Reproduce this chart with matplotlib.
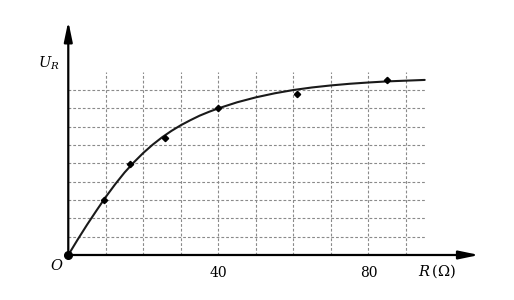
import matplotlib
matplotlib.use("Agg")
import matplotlib.pyplot as plt

plt.rcParams['mathtext.fontset'] = 'dejavuserif'
plt.rcParams['font.family'] = ['DejaVu Serif']

# data
grid_x = [10, 20, 30, 40, 50, 60, 70, 80, 90]
grid_y = [1, 2, 3, 4, 5, 6, 7, 8, 9]
tick_values = [40, 80]
tick_labels = ["40", "80"]
curve_R = [0, 2.5, 5, 7.5, 10, 12.5, 15, 17.5, 20, 22.5, 25, 27.5, 30, 32.5, 35,
           37.5, 40, 45, 50, 55, 60, 65, 70, 75, 80, 85, 90, 95]
curve_U = [0, 0.84, 1.65, 2.42, 3.17, 3.86, 4.5, 5.06, 5.57, 6.02, 6.42, 6.77,
           7.08, 7.35, 7.6, 7.81, 8.0, 8.33, 8.6, 8.82, 9.0, 9.14, 9.25, 9.34,
           9.41, 9.47, 9.51, 9.55]
points_R = [9.6, 16.4, 25.8, 40, 61, 85]
points_U = [3.0, 4.95, 6.37, 8.0, 8.8, 9.56]

fig = plt.figure(figsize=(5.14, 3.0), dpi=100)
ax = fig.add_axes([0, 0, 1, 1])
ax.set_xlim(-18.2, 118.8)
ax.set_ylim(-2.455, 13.91)
ax.axis('off')

gc = '#8a8a8a'
for gx in grid_x:
    ax.plot([gx, gx], [0, 10], ls=(0, (2.5, 1.8)), color=gc, lw=0.8, zorder=1)
for gy in grid_y:
    ax.plot([0, 95.2], [gy, gy], ls=(0, (2.5, 1.8)), color=gc, lw=0.8, zorder=1)

# axes arrows
ax.annotate('', xy=(109.5, 0), xytext=(0, 0),
            arrowprops=dict(arrowstyle='-|>,head_length=1.2,head_width=0.25',
                            color='black', lw=1.6, shrinkA=0, shrinkB=0), zorder=3)
ax.annotate('', xy=(0, 12.75), xytext=(0, 0),
            arrowprops=dict(arrowstyle='-|>,head_length=1.2,head_width=0.25',
                            color='black', lw=1.6, shrinkA=0, shrinkB=0), zorder=3)

ax.plot(curve_R, curve_U, color='#1a1a1a', lw=1.5, zorder=4,
        solid_capstyle='round', solid_joinstyle='round')
ax.plot(points_R, points_U, ls='none', marker='D', ms=3.2, color='black', zorder=5)
ax.plot([0], [0], marker='o', ms=5.5, color='black', zorder=6)

for v, lab in zip(tick_values, tick_labels):
    ax.text(v, -0.98, lab, ha='center', va='center', fontsize=10)

ax.text(-3.0, -0.6, r'$O$', ha='center', va='center', fontsize=10.5)
ax.text(-5.2, 10.45, r'$U_R$', ha='center', va='center', fontsize=10.5)
ax.text(98.4, -0.87, r'$R\,(\Omega)$', ha='center', va='center', fontsize=10.5)

fig.savefig('out.png', dpi=100)
